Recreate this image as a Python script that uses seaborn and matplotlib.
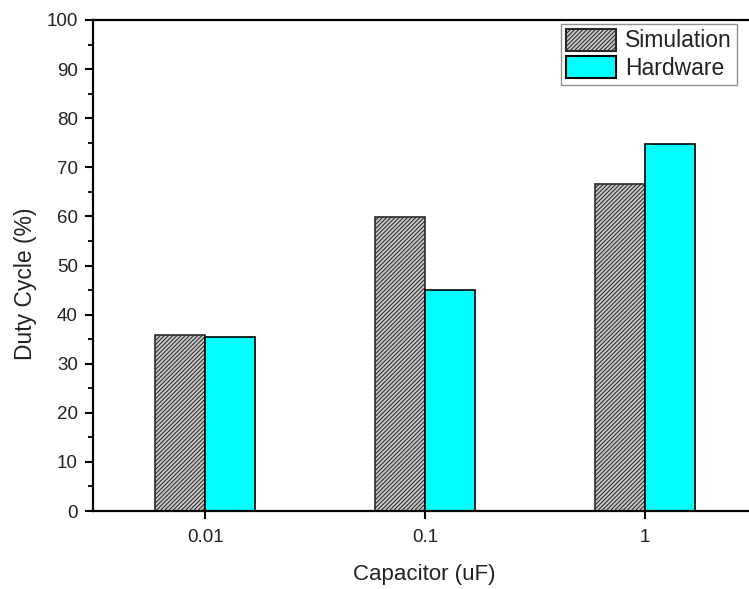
import matplotlib
matplotlib.use("Agg")
import matplotlib.pyplot as plt
import seaborn as sns
import pandas as pd
from matplotlib.patches import Patch
from matplotlib.ticker import MultipleLocator

categories = ["0.01", "0.1", "1"]
simulation = [35.8, 59.9, 66.6]
hardware = [35.4, 45.0, 74.8]
series_names = ["Simulation", "Hardware"]

sns.set_theme(style="white")
plt.rcParams['font.family'] = ['Liberation Sans', 'DejaVu Sans']
plt.rcParams['hatch.linewidth'] = 0.75

df = pd.DataFrame({
    "Capacitor": categories * 2,
    "Value": simulation + hardware,
    "Series": [series_names[0]] * 3 + [series_names[1]] * 3,
})

colors = {"Simulation": "#c8c8c8", "Hardware": "#00ffff"}
HATCH = "////////"
HATCH_EDGE = "#2a2a2a"

fig = plt.figure(figsize=(7.49, 5.89), dpi=100)
L, R, T, B = 93, 755, 20, 511
ax = fig.add_axes([L / 749, 1 - B / 589, (R - L) / 749, (B - T) / 589])

sns.barplot(data=df, x="Capacitor", y="Value", hue="Series", order=categories,
            hue_order=series_names, palette=colors, width=0.455, dodge=True,
            edgecolor="black", linewidth=1.2, saturation=1, legend=False, ax=ax,
            errorbar=None)

for patch in ax.patches[:3]:
    patch.set_hatch(HATCH)
    patch.set_edgecolor(HATCH_EDGE)

ax.set_xlim(-0.51, 2.5)
ax.set_ylim(0, 100)
ax.yaxis.set_major_locator(MultipleLocator(10))
ax.yaxis.set_minor_locator(MultipleLocator(5))

for side in ["left", "bottom", "top"]:
    ax.spines[side].set_visible(True)
    ax.spines[side].set_linewidth(1.6)
    ax.spines[side].set_color("black")
ax.spines["right"].set_visible(False)

ax.tick_params(axis="both", which="major", direction="out", length=6, width=1.5,
               color="black", labelsize=13.5, labelcolor="#222222", left=True, bottom=True)
ax.tick_params(axis="y", which="minor", direction="out", length=3.5, width=1.3,
               color="black", left=True)
ax.tick_params(axis="x", pad=7)
ax.tick_params(axis="y", pad=5)

ax.set_xlabel("Capacitor (uF)", fontsize=16, color="#222222", labelpad=13)
ax.set_ylabel("Duty Cycle (%)", fontsize=16.5, color="#222222")
ax.yaxis.set_label_coords(-0.085, 0.462)

handles = [Patch(facecolor=colors["Simulation"], edgecolor=HATCH_EDGE, hatch=HATCH, linewidth=1.5),
           Patch(facecolor=colors["Hardware"], edgecolor="black", linewidth=1.5)]
leg = fig.legend(handles, series_names, loc="upper left",
                 bbox_to_anchor=(561 / 749, 1 - 24 / 589), bbox_transform=fig.transFigure,
                 fontsize=16.5, frameon=True, fancybox=False, edgecolor="#777777",
                 handlelength=2.2, handleheight=1.1, labelspacing=0.17,
                 handletextpad=0.4, borderpad=0.2, borderaxespad=0)
leg.get_frame().set_linewidth(1.0)
for t in leg.get_texts():
    t.set_color("#222222")

fig.savefig("out.png", dpi=100)
